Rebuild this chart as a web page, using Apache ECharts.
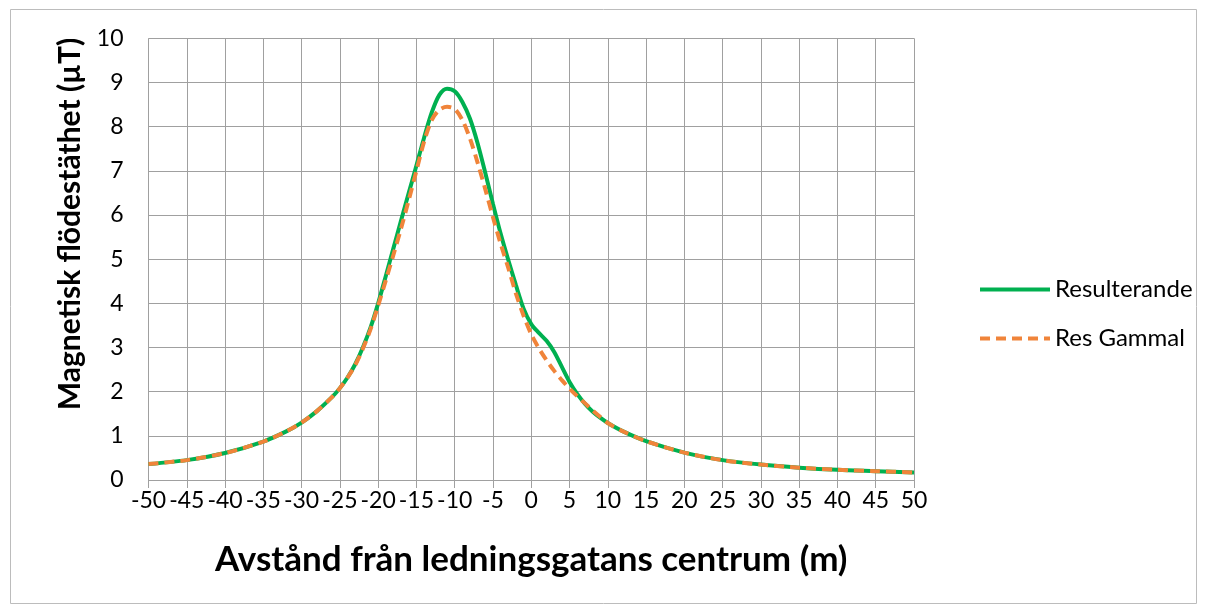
<!DOCTYPE html>
<html>
<head>
<meta charset="utf-8">
<script src="https://cdn.jsdelivr.net/npm/echarts@6/dist/echarts.min.js"></script>
<style>
html,body{margin:0;padding:0;background:#fff;}
#chart{width:1208px;height:614px;}
</style>
</head>
<body>
<div id="chart"></div>
<script>
// Distance from the line corridor centre (m)
const distances = [-50,-45,-40,-35,-32,-30,-28,-26,-25,-24,-23,-22,-21,-20,-19,-18,-17,-16,-15,-14,-13,-12,-11,-10,-9,-8,-7,-6,-5,-4,-3,-2,-1,0,1,2,3,4,5,6,7,8,9,10,12,15,20,25,30,35,40,45,50];
// Resulterande (µT)
const resulterande = [0.36,0.45,0.61,0.87,1.10,1.30,1.56,1.88,2.08,2.32,2.62,3.00,3.45,4.00,4.62,5.25,5.88,6.50,7.12,7.75,8.32,8.72,8.86,8.80,8.56,8.18,7.62,6.95,6.25,5.58,4.98,4.41,3.88,3.53,3.33,3.15,2.90,2.56,2.22,1.95,1.73,1.55,1.41,1.29,1.10,0.88,0.62,0.45,0.35,0.28,0.23,0.20,0.17];
// Res Gammal (µT)
const resGammal = [0.36,0.45,0.61,0.87,1.10,1.30,1.56,1.88,2.08,2.32,2.60,2.97,3.41,3.95,4.52,5.10,5.70,6.34,7.00,7.66,8.15,8.38,8.45,8.40,8.15,7.73,7.18,6.58,5.95,5.35,4.80,4.22,3.72,3.30,2.98,2.71,2.47,2.26,2.07,1.90,1.74,1.58,1.43,1.29,1.10,0.88,0.62,0.45,0.35,0.28,0.23,0.20,0.17];

const seriesNames = ['Resulterande', 'Res Gammal'];
const xTitle = 'Avstånd från ledningsgatans centrum (m)';
const yTitle = 'Magnetisk flödestäthet (µT)';

const pair = (xs, ys) => xs.map((x, i) => [x, ys[i]]);
const gridColor = '#a0a0a0';
const font = 'Lato';

const chart = echarts.init(document.getElementById('chart'), null, {renderer: 'canvas'});
chart.setOption({
  animation: false,
  backgroundColor: '#fff',
  textStyle: {fontFamily: font},
  grid: {left: 148.5, right: 294, top: 38.3, bottom: 134, containLabel: false},
  xAxis: {
    type: 'value', min: -50, max: 50, interval: 5,
    axisLine: {show: true, lineStyle: {color: gridColor, width: 1}},
    axisTick: {show: true, length: 8, lineStyle: {color: gridColor}},
    splitLine: {show: true, lineStyle: {color: gridColor, width: 1}},
    axisLabel: {fontFamily: font, fontSize: 23, color: '#000', margin: 9},
    name: xTitle, nameLocation: 'middle', nameGap: 62,
    nameTextStyle: {fontFamily: font, fontSize: 35, fontWeight: 'bold', color: '#000'}
  },
  yAxis: {
    type: 'value', min: 0, max: 10, interval: 1,
    axisLine: {show: true, lineStyle: {color: gridColor, width: 1}},
    axisTick: {show: true, length: 8, lineStyle: {color: gridColor}},
    splitLine: {show: true, lineStyle: {color: gridColor, width: 1}},
    axisLabel: {fontFamily: font, fontSize: 23, color: '#000', margin: 25}
  },
  legend: {
    orient: 'vertical', left: 973, top: 271,
    itemWidth: 70, itemHeight: 14, itemGap: 22,
    itemStyle: {opacity: 0},
    lineStyle: {width: 4},
    textStyle: {fontFamily: font, fontSize: 24, color: '#000', lineHeight: 27},
    data: seriesNames
  },
  graphic: [
    {type: 'rect', shape: {x: 10.5, y: 9.5, width: 1186, height: 594},
     style: {fill: 'none', stroke: '#bcbcbc', lineWidth: 1}, silent: true},
    {type: 'text', x: 70, y: 224, rotation: Math.PI / 2,
     style: {text: yTitle, fontFamily: font, fontSize: 30, fontWeight: 'bold', fill: '#000',
             textAlign: 'center', textVerticalAlign: 'middle'}}
  ],
  series: [
    {name: seriesNames[0], type: 'line', data: pair(distances, resulterande), smooth: 0.3,
     symbol: 'none', color: '#00B050', lineStyle: {color: '#00B050', width: 4}, z: 2},
    {name: seriesNames[1], type: 'line', data: pair(distances, resGammal), smooth: 0.3,
     symbol: 'none', color: '#F0843A', lineStyle: {color: '#F0843A', width: 4, type: [10, 6], cap: 'butt'}, z: 3}
  ]
});
</script>
</body>
</html>
